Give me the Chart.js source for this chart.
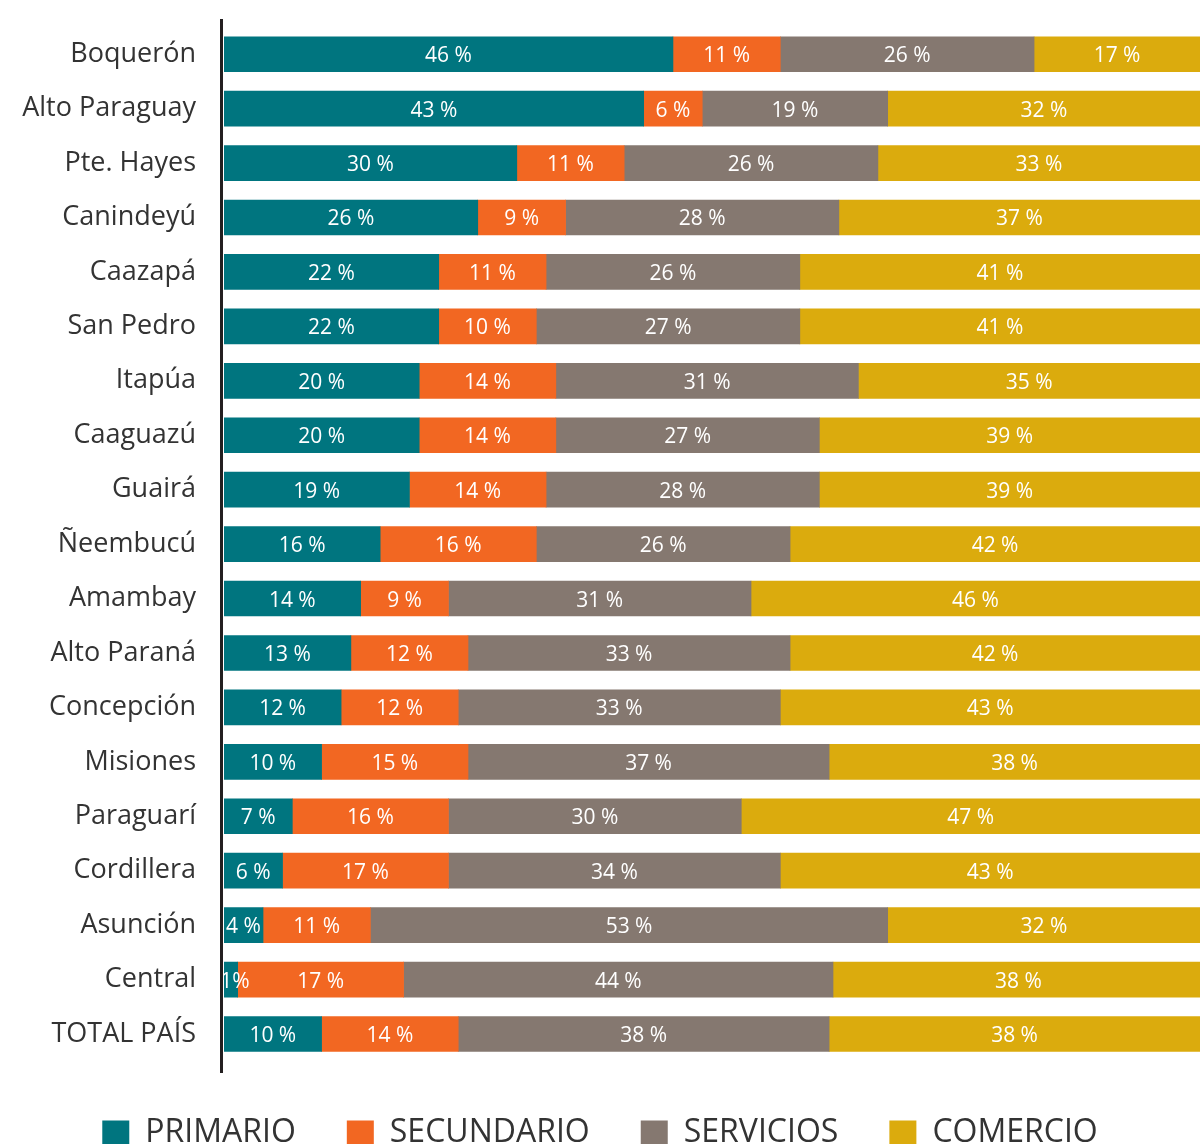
<!DOCTYPE html>
<html>
<head>
<meta charset="utf-8">
<script src="https://cdn.jsdelivr.net/npm/chart.js@4.4.0/dist/chart.umd.min.js"></script>
<style>
  html, body { margin: 0; padding: 0; background: #fff; overflow: hidden; }
  #wrap { position: relative; width: 1200px; height: 1159px; }
</style>
</head>
<body>
<div id="wrap"><canvas id="mainChart"></canvas></div>
<script>
// categories, top to bottom
const departamentos = [
  "Boquerón", "Alto Paraguay", "Pte. Hayes", "Canindeyú", "Caazapá",
  "San Pedro", "Itapúa", "Caaguazú", "Guairá", "Ñeembucú", "Amambay",
  "Alto Paraná", "Concepción", "Misiones", "Paraguarí", "Cordillera",
  "Asunción", "Central", "TOTAL PAÍS"
];

// shares (%) per sector
const primario    = [46, 43, 30, 26, 22, 22, 20, 20, 19, 16, 14, 13, 12, 10, 7, 6, 4, 1.4, 10];
const secundario  = [11, 6, 11, 9, 11, 10, 14, 14, 14, 16, 9, 12, 12, 15, 16, 17, 11, 17, 14];
const servicios   = [26, 19, 26, 28, 26, 27, 31, 27, 28, 26, 31, 33, 33, 37, 30, 34, 53, 44, 38];
const comercio    = [17, 32, 33, 37, 41, 41, 35, 39, 39, 42, 46, 42, 43, 38, 47, 43, 32, 38, 38];

const sectores = ["PRIMARIO", "SECUNDARIO", "SERVICIOS", "COMERCIO"];
const colores  = ["#00757f", "#f26722", "#857870", "#dbab0d"];

const FONT = "'Open Sans', 'Noto Sans', sans-serif";

// white % text centred in every segment
const segmentLabels = {
  id: "segmentLabels",
  afterDatasetsDraw(chart) {
    const { ctx } = chart;
    ctx.save();
    ctx.font = "400 21px " + FONT;
    ctx.fillStyle = "#ffffff";
    ctx.textAlign = "center";
    ctx.textBaseline = "middle";
    chart.data.datasets.forEach((ds, i) => {
      const meta = chart.getDatasetMeta(i);
      meta.data.forEach((bar, j) => {
        const v = ds.data[j];
        const { x, y, base } = bar.getProps(["x", "y", "base"], true);
        const txt = v < 2 ? Math.round(v) + "%" : Math.round(v) + " %";
        let cx = (x + base) / 2;
        if (v < 2) cx += 4;
        ctx.fillText(txt, cx, y + 2);
      });
    });
    ctx.restore();
  }
};

// vertical axis line, a bit longer than the plot area
const axisLine = {
  id: "axisLine",
  afterDraw(chart) {
    const { ctx } = chart;
    ctx.save();
    ctx.strokeStyle = "#231f20";
    ctx.lineWidth = 3;
    ctx.beginPath();
    ctx.moveTo(221.5, 19);
    ctx.lineTo(221.5, 1073);
    ctx.stroke();
    ctx.restore();
  }
};

const datasets = [primario, secundario, servicios, comercio].map((d, i) => ({
  label: sectores[i],
  data: d,
  backgroundColor: colores[i],
  borderWidth: 0,
  barThickness: 35
}));

new Chart(document.getElementById("mainChart").getContext("2d"), {
  type: "bar",
  data: { labels: departamentos, datasets },
  options: {
    indexAxis: "y",
    responsive: true,
    maintainAspectRatio: false,
    animation: false,
    layout: { padding: { top: 27, left: 0, right: 0, bottom: 0 } },
    plugins: {
      tooltip: { enabled: false },
      legend: {
        position: "bottom",
        title: { display: true, text: "", padding: 0, font: { size: 4 } },
        labels: {
          boxWidth: 27,
          boxHeight: 25,
          padding: 51,
          color: "#333333",
          font: { size: 32, family: FONT, weight: "400" }
        }
      }
    },
    scales: {
      x: {
        stacked: true,
        min: 0,
        max: 100,
        display: false
      },
      y: {
        stacked: true,
        grid: { display: false, drawTicks: false },
        border: { display: false },
        ticks: {
          padding: 28,
          color: "#333333",
          font: { size: 27, family: FONT, weight: "500" }
        },
        afterFit(scale) {
          scale.width = 224;
          scale.paddingTop = 0;
          scale.paddingBottom = 0;
        }
      }
    }
  },
  plugins: [segmentLabels, axisLine]
});
</script>
</body>
</html>
